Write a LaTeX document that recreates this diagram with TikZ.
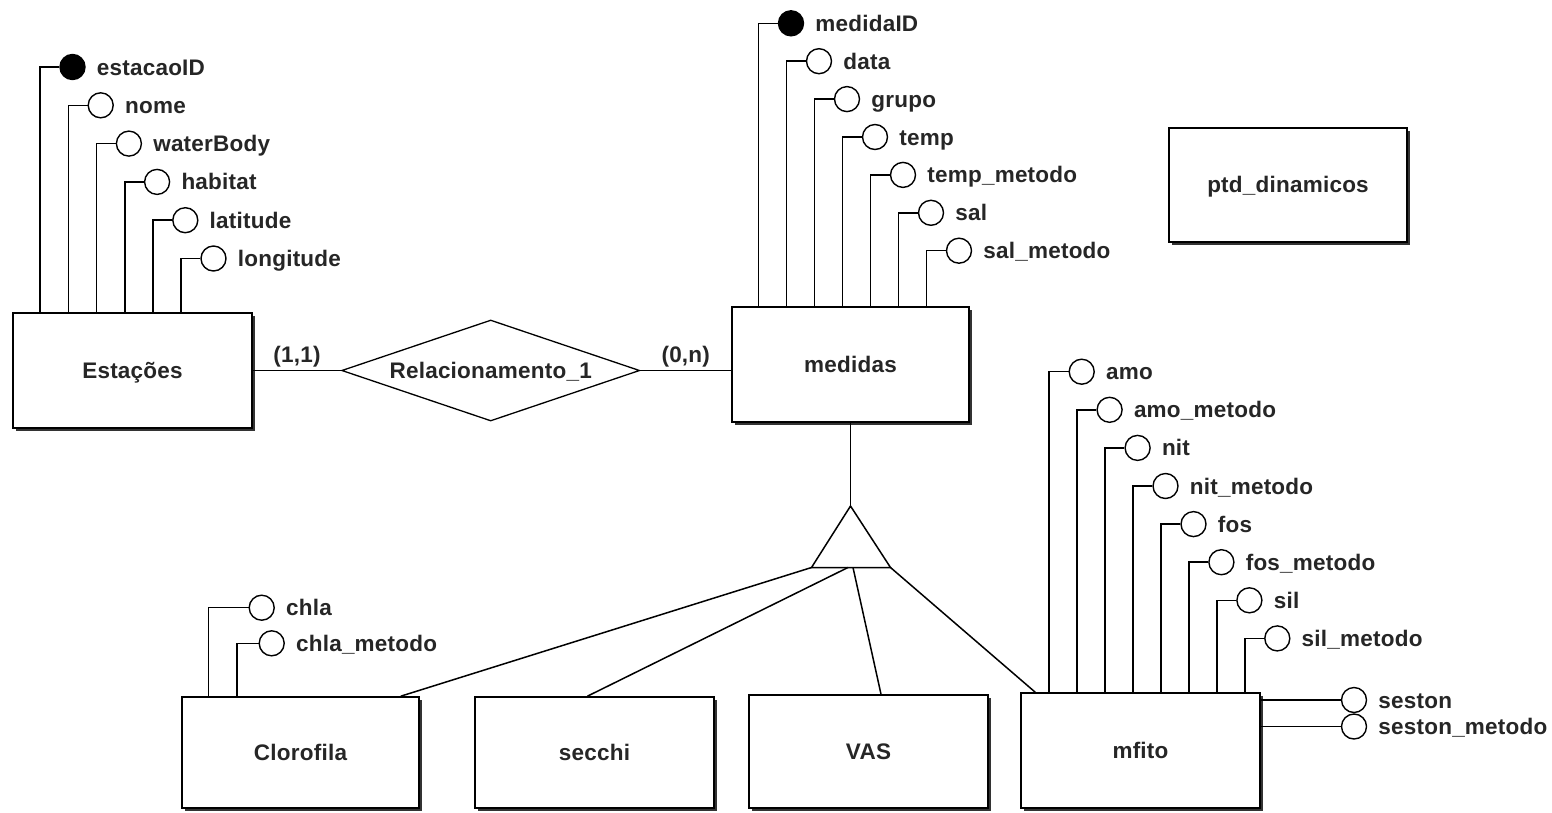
\documentclass[tikz,border=0pt]{standalone}
\usepackage{fontspec}
\setmainfont{Liberation Sans}[LetterSpace=1]
\usetikzlibrary{shapes.geometric,shadows}
\newcommand\erfont{\fontsize{22.5}{26}\selectfont\bfseries}
\newcommand\attrib[6]{%
  \node[attrc,#5] (#1) at (#2,#3) {};
  \node[attrt] (#1t) at ([xshift=11pt,yshift=-8pt]#1.east) {#4};
  \draw[conn] (#1.west) -| (#6);
}
\begin{document}
\begin{tikzpicture}[x=1pt,y=-1pt,
  conn/.style={line width=1.5pt, draw=black},
  ent/.style={draw, line width=1.7pt, fill=white, text height=15pt, text depth=0pt,
    font=\erfont, text=black!85, inner sep=0,
    drop shadow={shadow xshift=3pt, shadow yshift=-3pt, fill=black!80, opacity=1}},
  relshape/.style={diamond, draw, line width=1.3pt, fill=white, minimum width=298pt,
    minimum height=101pt, shape aspect=3, inner sep=2pt, text height=15pt, text depth=0pt,
    font=\erfont, text=black!85},
  attrc/.style={circle, draw, line width=1.4pt, fill=white, minimum size=25pt, inner sep=0},
  pk/.style={fill=black},
  attrt/.style={anchor=base west, inner sep=0, font=\erfont, text=black!85},
  card/.style={midway, anchor=base, yshift=8pt, inner sep=0, font=\erfont, text=black!85},
]
\fill[white] (0,0) rectangle (1552,812);
\useasboundingbox (0,0) rectangle (1552,812);

% entities
\node[ent, minimum width=239pt, minimum height=115pt] (estacoes) at (132.5,370.5) {Estações};
\node[ent, minimum width=237pt, minimum height=115pt] (medidas) at (850.5,364.5) {medidas};
\node[ent, minimum width=238pt, minimum height=114pt] (ptd) at (1288,185) {ptd\_dinamicos};
\node[ent, minimum width=237pt, minimum height=111pt] (clorofila) at (300.5,752.5) {Clorofila};
\node[ent, minimum width=239pt, minimum height=111pt] (secchi) at (594.5,752.5) {secchi};
\node[ent, minimum width=239pt, minimum height=113pt] (vas) at (868.5,751.5) {VAS};
\node[ent, minimum width=239pt, minimum height=115pt] (mfito) at (1140.5,750.5) {mfito};

% relationship
\node[relshape] (rel) at (490.7,370.5) {Relacionamento\_1};
\draw[conn] (estacoes.east) -- node[card] (c1) {(1,1)} (rel.west);
\draw[conn] (rel.east) -- node[card] (c2) {(0,n)} (rel.east -| medidas.west);

% Estacoes attributes
\attrib{e0}{72.5}{67}{estacaoID}{pk}{[xshift=28pt]estacoes.north west}
\attrib{e1}{100.7}{105.3}{nome}{}{[xshift=56.2pt]estacoes.north west}
\attrib{e2}{128.9}{143.6}{waterBody}{}{[xshift=84.4pt]estacoes.north west}
\attrib{e3}{157.1}{181.9}{habitat}{}{[xshift=112.6pt]estacoes.north west}
\attrib{e4}{185.3}{220.2}{latitude}{}{[xshift=140.8pt]estacoes.north west}
\attrib{e5}{213.5}{258.5}{longitude}{}{[xshift=169pt]estacoes.north west}

% medidas attributes
\attrib{m0}{791}{23.3}{medidaID}{pk}{[xshift=27.5pt]medidas.north west}
\attrib{m1}{819}{61.2}{data}{}{[xshift=55.5pt]medidas.north west}
\attrib{m2}{847}{99.1}{grupo}{}{[xshift=83.5pt]medidas.north west}
\attrib{m3}{875}{137}{temp}{}{[xshift=111.5pt]medidas.north west}
\attrib{m4}{903}{174.9}{temp\_metodo}{}{[xshift=139.5pt]medidas.north west}
\attrib{m5}{931}{212.8}{sal}{}{[xshift=167.5pt]medidas.north west}
\attrib{m6}{959}{250.7}{sal\_metodo}{}{[xshift=195.5pt]medidas.north west}

% mfito attributes
\attrib{f0}{1081.7}{371.7}{amo}{}{[xshift=29pt]mfito.north west}
\attrib{f1}{1109.6}{409.8}{amo\_metodo}{}{[xshift=56.95pt]mfito.north west}
\attrib{f2}{1137.6}{447.9}{nit}{}{[xshift=84.9pt]mfito.north west}
\attrib{f3}{1165.5}{486}{nit\_metodo}{}{[xshift=112.85pt]mfito.north west}
\attrib{f4}{1193.5}{524.1}{fos}{}{[xshift=140.8pt]mfito.north west}
\attrib{f5}{1221.4}{562.2}{fos\_metodo}{}{[xshift=168.75pt]mfito.north west}
\attrib{f6}{1249.4}{600.3}{sil}{}{[xshift=196.7pt]mfito.north west}
\attrib{f7}{1277.3}{638.4}{sil\_metodo}{}{[xshift=224.65pt]mfito.north west}

% seston
\node[attrc] (s0) at (1354,700) {};
\node[attrt] (s0t) at ([xshift=11pt,yshift=-8pt]s0.east) {seston};
\draw[conn] (s0.west) -- (s0.west -| mfito.east);
\node[attrc] (s1) at (1354,726.5) {};
\node[attrt] (s1t) at ([xshift=11pt,yshift=-8pt]s1.east) {seston\_metodo};
\draw[conn] (s1.west) -- (s1.west -| mfito.east);

% Clorofila attributes
\attrib{c0}{261.7}{607.7}{chla}{}{[xshift=27.3pt]clorofila.north west}
\attrib{c1a}{271.7}{643.3}{chla\_metodo}{}{[xshift=55.7pt]clorofila.north west}

% specialization triangle
\coordinate (apex) at (850.5,506);
\coordinate (tbl) at (811.5,567.5);
\coordinate (tbr) at (890.5,567.5);
\coordinate (tbs) at (848,567.5);
\coordinate (tbv) at (853,567.5);
\draw[conn] (medidas.south) -- (apex);
\draw[conn, line join=miter] (apex) -- (tbl) -- (tbr) -- cycle;
\draw[conn] (tbl) -- ([xshift=-19pt]clorofila.north east);
\draw[conn] (tbs) -- ([xshift=-7pt]secchi.north);
\draw[conn] (tbv) -- ([xshift=12.5pt]vas.north);
\draw[conn] (tbr) -- ([xshift=15pt]mfito.north west);
\end{tikzpicture}
\end{document}
